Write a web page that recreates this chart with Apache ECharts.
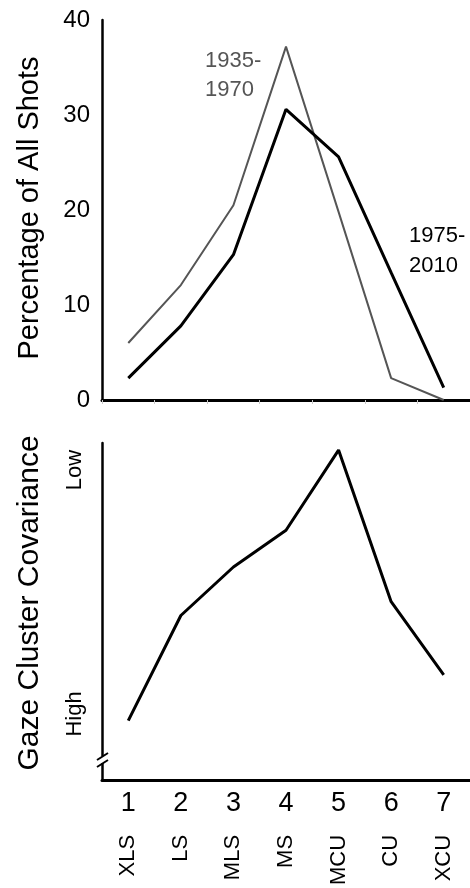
<!DOCTYPE html>
<html>
<head>
<meta charset="utf-8">
<script src="https://cdn.jsdelivr.net/npm/echarts@6/dist/echarts.min.js"></script>
<style>
html,body{margin:0;padding:0;background:#fff;}
#chart{width:470px;height:888px;}
</style>
</head>
<body>
<div id="chart"></div>
<script>
const shotTypes = ['XLS', 'LS', 'MLS', 'MS', 'MCU', 'CU', 'XCU'];
const shotNumbers = ['1', '2', '3', '4', '5', '6', '7'];
const shots1935to1970 = [6.0, 12.1, 20.5, 37.2, 19.8, 2.3, 0];
const shots1975to2010 = [2.3, 7.8, 15.3, 30.6, 25.6, 13.4, 1.3];
const gazeCovariance = [1.76, 4.88, 6.32, 7.41, 9.79, 5.29, 3.12];
const percentTicks = [0, 10, 20, 30, 40];

const FONT = 'Liberation Sans, Arial, Helvetica, sans-serif';
const chart = echarts.init(document.getElementById('chart'), null, {renderer: 'canvas'});

const option = {
  backgroundColor: '#ffffff',
  animation: false,
  grid: [
    {left: 102, top: 20, width: 376, height: 380},
    {left: 102, top: 443, width: 376, height: 340}
  ],
  xAxis: [
    {
      type: 'category', gridIndex: 0, data: shotTypes, boundaryGap: true,
      axisLine: {lineStyle: {color: '#000', width: 3}},
      axisTick: {show: true, length: 4, lineStyle: {color: '#c8c8c8', width: 1}},
      axisLabel: {show: false}
    },
    {
      type: 'category', gridIndex: 1, data: shotNumbers, boundaryGap: true,
      axisLine: {lineStyle: {color: '#000', width: 3}},
      axisTick: {show: false},
      axisLabel: {show: true, color: '#000', fontSize: 27, fontFamily: FONT, margin: 10}
    },
    {
      type: 'category', gridIndex: 1, data: shotTypes, boundaryGap: true, position: 'bottom',
      axisLine: {show: false},
      axisTick: {show: false},
      axisLabel: {show: true, rotate: 90, color: '#000', fontSize: 22, fontFamily: FONT, margin: 55}
    }
  ],
  yAxis: [
    {
      type: 'value', gridIndex: 0, min: percentTicks[0], max: percentTicks[percentTicks.length - 1], interval: 10,
      axisLine: {show: true, lineStyle: {color: '#000', width: 2.5}},
      axisTick: {show: false},
      splitLine: {show: false},
      axisLabel: {color: '#000', fontSize: 24, fontFamily: FONT, margin: 12}
    },
    {
      type: 'value', gridIndex: 1, min: 0, max: 10,
      axisLine: {show: true, lineStyle: {color: '#000', width: 2.5}},
      axisTick: {show: false},
      splitLine: {show: false},
      axisLabel: {show: false}
    }
  ],
  series: [
    {
      name: '1935-1970', type: 'line', xAxisIndex: 0, yAxisIndex: 0,
      data: shots1935to1970, symbol: 'none',
      lineStyle: {color: '#555555', width: 2}, z: 3
    },
    {
      name: '1975-2010', type: 'line', xAxisIndex: 0, yAxisIndex: 0,
      data: shots1975to2010, symbol: 'none',
      lineStyle: {color: '#000000', width: 3}, z: 4
    },
    {
      name: 'Gaze Cluster Covariance', type: 'line', xAxisIndex: 1, yAxisIndex: 1,
      data: gazeCovariance, symbol: 'none',
      lineStyle: {color: '#000000', width: 3}
    }
  ],
  graphic: [
    {type: 'text', x: 30, y: 208, rotation: Math.PI / 2,
      style: {text: 'Percentage of All Shots', font: '29px ' + FONT, fill: '#000', textAlign: 'center', textVerticalAlign: 'middle'}},
    {type: 'text', x: 30, y: 603, rotation: Math.PI / 2,
      style: {text: 'Gaze Cluster Covariance', font: '30px ' + FONT, fill: '#000', textAlign: 'center', textVerticalAlign: 'middle'}},
    {type: 'text', x: 75, y: 470, rotation: Math.PI / 2,
      style: {text: 'Low', font: '22px ' + FONT, fill: '#000', textAlign: 'center', textVerticalAlign: 'middle'}},
    {type: 'text', x: 75, y: 714, rotation: Math.PI / 2,
      style: {text: 'High', font: '22px ' + FONT, fill: '#000', textAlign: 'center', textVerticalAlign: 'middle'}},
    {type: 'text', x: 205, y: 46,
      style: {text: '1935-\n1970', font: '22px ' + FONT, fill: '#555555', lineHeight: 29, textAlign: 'left', textVerticalAlign: 'top'}},
    {type: 'text', x: 409, y: 221,
      style: {text: '1975-\n2010', font: '22px ' + FONT, fill: '#000000', lineHeight: 30, textAlign: 'left', textVerticalAlign: 'top'}},
    {type: 'rect', shape: {x: 98, y: 756, width: 9, height: 7}, style: {fill: '#ffffff'}, z: 100},
    {type: 'line', shape: {x1: 97, y1: 760, x2: 108, y2: 753}, style: {stroke: '#000', lineWidth: 2}, z: 101},
    {type: 'line', shape: {x1: 97, y1: 767, x2: 108, y2: 760}, style: {stroke: '#000', lineWidth: 2}, z: 101}
  ]
};
chart.setOption(option);
</script>
</body>
</html>
